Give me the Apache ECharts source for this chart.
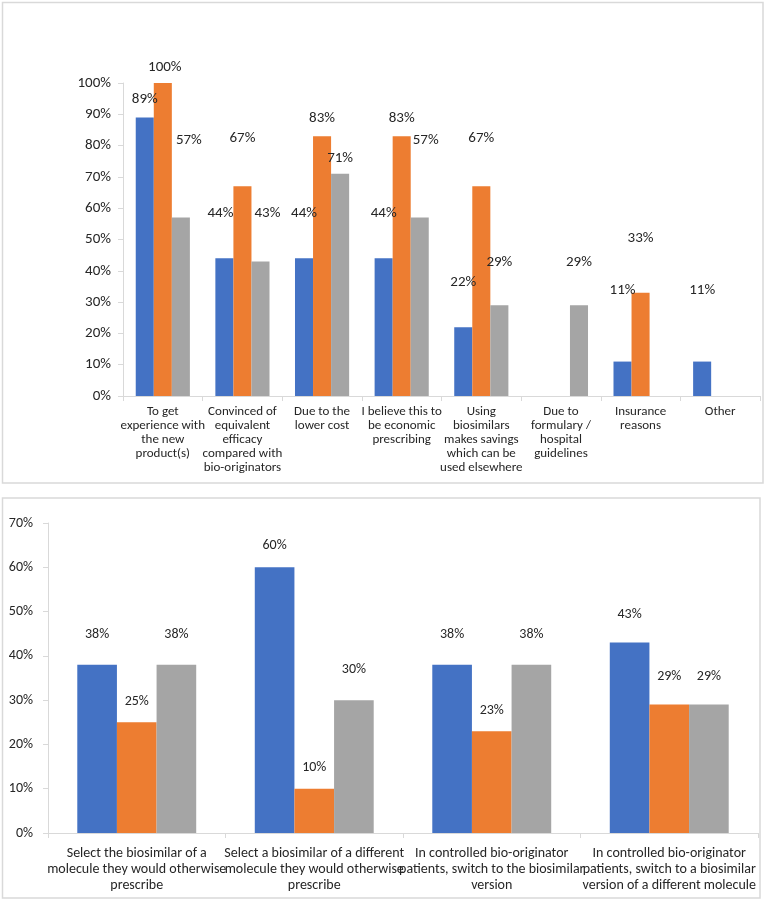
<!DOCTYPE html>
<html>
<head>
<meta charset="utf-8">
<script src="https://cdn.jsdelivr.net/npm/echarts@6/dist/echarts.min.js"></script>
<style>
html,body{margin:0;padding:0;background:#fff;}
#c{width:767px;height:902px;}
</style>
</head>
<body>
<div id="c"></div>
<script>
// ---- data ----
var topCategories = [
  "To get\nexperience with\nthe new\nproduct(s)",
  "Convinced of\nequivalent\nefficacy\ncompared with\nbio-originators",
  "Due to the\nlower cost",
  "I believe this to\nbe economic\nprescribing",
  "Using\nbiosimilars\nmakes savings\nwhich can be\nused elsewhere",
  "Due to\nformulary /\nhospital\nguidelines",
  "Insurance\nreasons",
  "Other"
];
var topBlue   = [89, 44, 44, 44, 22, null, 11, 11];
var topOrange = [100, 67, 83, 83, 67, null, 33, null];
var topGrey   = [57, 43, 71, 57, 29, 29, null, null];
var topTicks  = [0, 10, 20, 30, 40, 50, 60, 70, 80, 90, 100];

var bottomCategories = [
  "Select the biosimilar of a\nmolecule they would otherwise\nprescribe",
  "Select a biosimilar of a different\nmolecule they would otherwise\nprescribe",
  "In controlled bio-originator\npatients, switch to the biosimilar\nversion",
  "In controlled bio-originator\npatients, switch to a biosimilar\nversion of a different molecule"
];
var bottomBlue   = [38, 60, 38, 43];
var bottomOrange = [25, 10, 23, 29];
var bottomGrey   = [38, 30, 38, 29];
var bottomTicks  = [0, 10, 20, 30, 40, 50, 60, 70];

// ---- label placement (style only: distance of each value label above its bar, px) ----
var topLabelDist = {
  blue:   [11, 38, 38, 38, 37, 0, 64, 64],
  orange: [8, 41, 10, 10, 41, 0, 47, 0],
  grey:   [70, 41, 8, 70, 35, 35, 0, 0]
};
var topLabelShift = {
  blue:   [0, -4, 0, 0, 0, 0, 0, 0],
  orange: [2, 0, 0, 0, 0, 0, 0, 0],
  grey:   [8, 7, 0, 6, 0, 0, 0, 0]
};
var bottomLabelDist = {
  blue:   [23, 15, 23, 21],
  orange: [14, 14, 14, 21],
  grey:   [23, 24, 23, 21]
};

var FONT = "Carlito, Calibri, Lato, sans-serif";
var TXT = '#262626';
var AXIS = '#D9D9D9';
var COLORS = {blue: '#4472C4', orange: '#ED7D31', grey: '#A5A5A5'};

function items(vals, dists, shifts) {
  return vals.map(function (v, i) {
    if (v === null) return '-';
    var lab = {distance: dists[i]};
    if (shifts && shifts[i]) lab.offset = [shifts[i], 0];
    return {value: v, label: lab};
  });
}

function mkSeries(name, vals, dists, shifts, axisIdx, gap, fs) {
  return {
    type: 'bar', name: name,
    xAxisIndex: axisIdx, yAxisIndex: axisIdx,
    data: items(vals, dists, shifts),
    itemStyle: {color: COLORS[name]},
    barGap: '0%', barCategoryGap: gap,
    label: {show: true, position: 'top', formatter: '{c}%', color: TXT,
            fontFamily: FONT, fontSize: fs},
    emphasis: {disabled: true},
    animation: false
  };
}

var chart = echarts.init(document.getElementById('c'), null, {renderer: 'canvas'});
chart.setOption({
  animation: false,
  backgroundColor: '#fff',
  graphic: [
    {type: 'rect', shape: {x: 2.5, y: 2.5, width: 760.5, height: 480.5},
     style: {fill: 'none', stroke: AXIS, lineWidth: 1.5}, silent: true},
    {type: 'rect', shape: {x: 2.5, y: 498, width: 757.5, height: 400},
     style: {fill: 'none', stroke: AXIS, lineWidth: 1.5}, silent: true}
  ],
  grid: [
    {left: 123, right: 7, top: 83, bottom: 902 - 396},
    {left: 48, right: 9, top: 523, bottom: 902 - 833}
  ],
  xAxis: [
    {type: 'category', gridIndex: 0, data: topCategories,
     axisLine: {lineStyle: {color: AXIS, width: 1}},
     axisTick: {show: true, length: 5, lineStyle: {color: AXIS}},
     axisLabel: {interval: 0, color: TXT, fontFamily: FONT, fontSize: 13, lineHeight: 14, margin: 9}},
    {type: 'category', gridIndex: 1, data: bottomCategories,
     axisLine: {lineStyle: {color: AXIS, width: 1}},
     axisTick: {show: true, length: 5, lineStyle: {color: AXIS}},
     axisLabel: {interval: 0, color: TXT, fontFamily: FONT, fontSize: 14, lineHeight: 16, margin: 12}}
  ],
  yAxis: [
    {type: 'value', gridIndex: 0, min: topTicks[0], max: topTicks[topTicks.length - 1], interval: 10,
     axisLine: {show: true, lineStyle: {color: AXIS}},
     axisTick: {show: true, length: 5, lineStyle: {color: AXIS}},
     splitLine: {show: false},
     axisLabel: {color: TXT, fontFamily: FONT, fontSize: 15, margin: 12, formatter: '{value}%'}},
    {type: 'value', gridIndex: 1, min: bottomTicks[0], max: bottomTicks[bottomTicks.length - 1], interval: 10,
     axisLine: {show: true, lineStyle: {color: AXIS}},
     axisTick: {show: true, length: 5, lineStyle: {color: AXIS}},
     splitLine: {show: false},
     axisLabel: {color: TXT, fontFamily: FONT, fontSize: 14, margin: 15, formatter: '{value}%'}}
  ],
  series: [
    mkSeries('blue', topBlue, topLabelDist.blue, topLabelShift.blue, 0, '32%', 15),
    mkSeries('orange', topOrange, topLabelDist.orange, topLabelShift.orange, 0, '32%', 15),
    mkSeries('grey', topGrey, topLabelDist.grey, topLabelShift.grey, 0, '32%', 15),
    mkSeries('blue', bottomBlue, bottomLabelDist.blue, null, 1, '33%', 14),
    mkSeries('orange', bottomOrange, bottomLabelDist.orange, null, 1, '33%', 14),
    mkSeries('grey', bottomGrey, bottomLabelDist.grey, null, 1, '33%', 14)
  ]
});
</script>
</body>
</html>
